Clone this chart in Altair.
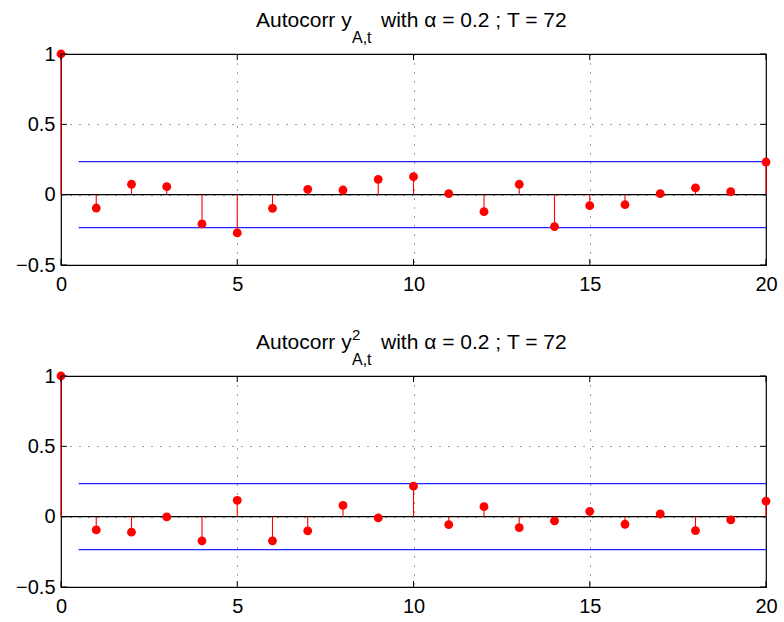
import altair as alt
import pandas as pd

# ---------------- data ----------------
lags = list(range(21))
acf_y = [1.0, -0.095, 0.074, 0.057, -0.208, -0.272, -0.097, 0.038, 0.033, 0.109, 0.128,
         0.007, -0.121, 0.074, -0.227, -0.078, -0.071, 0.007, 0.048, 0.021, 0.232]
acf_y2 = [1.0, -0.094, -0.110, -0.002, -0.172, 0.116, -0.172, -0.101, 0.080, -0.009, 0.217,
          -0.057, 0.071, -0.078, -0.030, 0.038, -0.054, 0.019, -0.099, -0.023, 0.111]
conf_bound = [0.235, -0.235]
conf_start = [0.5, 0.5]
conf_end = [20, 20]
x_ticks = [0, 5, 10, 15, 20]
y_ticks = [-0.5, 0, 0.5, 1]
title_main = ["Autocorr y"]
title_sub = ["A,t"]
title_sup = ["2"]
title_rest = ["with α = 0.2 ; T = 72"]

W, H = 705, 211
FONT = "Liberation Sans"

xscale = alt.Scale(domain=[0, 20], nice=False, zero=False)
yscale = alt.Scale(domain=[-0.5, 1], nice=False, zero=False)
xaxis = alt.Axis(values=x_ticks, format="~g", title=None, grid=True, gridDash=[1, 8],
                 gridColor="#000", gridOpacity=0.75, gridWidth=1, ticks=False, domain=False,
                 labelFontSize=20, labelFont=FONT, labelColor="black", labelPadding=9,
                 labelFlush=False)
yaxis = alt.Axis(values=y_ticks, format="~g", title=None, grid=True, gridDash=[1, 8],
                 gridColor="#000", gridOpacity=0.75, gridWidth=1, ticks=False, domain=False,
                 labelFontSize=20, labelFont=FONT, labelColor="black", labelPadding=6)


def X(field):
    return alt.X(field, type="quantitative", scale=xscale, axis=xaxis)


def Y(field):
    return alt.Y(field, type="quantitative", scale=yscale, axis=yaxis)


def text_layer(txt, x, y, size):
    return alt.Chart(pd.DataFrame({"t": txt})).mark_text(
        align="left", baseline="alphabetic", font=FONT, fontSize=size, color="black"
    ).encode(x=alt.value(x), y=alt.value(y), text="t:N")


def panel(values, with_sup):
    df = pd.DataFrame({"lag": lags, "acf": values})
    conf = pd.DataFrame({"x": conf_start, "x2": conf_end, "y": conf_bound})
    zero = pd.DataFrame({"z": [0]})
    xt = pd.DataFrame({"v": x_ticks})
    yt = pd.DataFrame({"v": y_ticks})

    blue = alt.Chart(conf).mark_rule(color="#2222ff", strokeWidth=1.2).encode(
        x=X("x"), x2="x2", y=Y("y"))
    zline = alt.Chart(zero).mark_rule(color="black", strokeWidth=1.2).encode(y=Y("z"))
    stems = alt.Chart(df).mark_rule(color="#ff0000", strokeWidth=1.1).encode(
        x=X("lag"), y=Y("acf"), y2=alt.datum(0))
    pts = alt.Chart(df).mark_circle(color="#ff0000", size=78, opacity=1).encode(
        x=X("lag"), y=Y("acf"))
    xt_b = alt.Chart(xt).mark_rule(color="black").encode(
        x=X("v"), y=alt.value(H), y2=alt.value(H - 6))
    xt_t = alt.Chart(xt).mark_rule(color="black").encode(
        x=X("v"), y=alt.value(0), y2=alt.value(6))
    yt_l = alt.Chart(yt).mark_rule(color="black").encode(
        y=Y("v"), x=alt.value(0), x2=alt.value(6))
    yt_r = alt.Chart(yt).mark_rule(color="black").encode(
        y=Y("v"), x=alt.value(W - 6), x2=alt.value(W))

    layers = [blue, zline, stems, pts, xt_b, xt_t, yt_l, yt_r,
              text_layer(title_main, 195, -27, 21),
              text_layer(title_sub, 291, -11, 16),
              text_layer(title_rest, 320, -27, 21)]
    if with_sup:
        layers.append(text_layer(title_sup, 291, -36, 15))
    return alt.layer(*layers).properties(width=W, height=H)


chart = alt.vconcat(panel(acf_y, False), panel(acf_y2, True), spacing=111, bounds="flush")
chart = chart.configure_view(stroke="black", strokeWidth=1.2).properties(
    padding={"left": 14, "top": 9, "right": 5, "bottom": 5},
    background="white",
)

chart.save("out.html", embed_options={"renderer": "svg", "actions": False})
